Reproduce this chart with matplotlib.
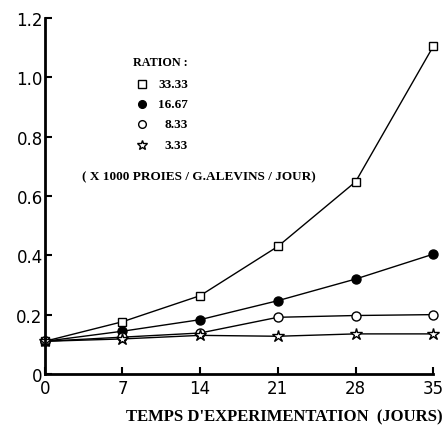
import matplotlib
matplotlib.use('Agg')
from matplotlib import pyplot as plt

days = [0, 7, 14, 21, 28, 35]
ration_labels = ['33.33', '16.67', '8.33', '3.33']
r33 = [0.11, 0.176, 0.264, 0.43, 0.648, 1.105]
r16 = [0.11, 0.144, 0.183, 0.247, 0.32, 0.404]
r8 = [0.11, 0.124, 0.138, 0.191, 0.197, 0.20]
r3 = [0.11, 0.118, 0.13, 0.127, 0.135, 0.135]

series = [
    (r33, dict(marker='s', mfc='white', ms=6)),
    (r16, dict(marker='o', mfc='black', ms=6.5)),
    (r8, dict(marker='o', mfc='white', ms=6.5)),
    (r3, dict(marker='*', mfc='white', ms=9)),
]

fig = plt.figure(figsize=(4.48, 4.27), dpi=100)
ax = fig.add_axes([0.100, 0.122, 0.867, 0.833])

for values, style in series:
    ax.plot(days, values, color='black', linewidth=1, mec='black', mew=1, clip_on=False, **style)

ax.set_xlim(0, 35)
ax.set_ylim(0, 1.2)
ax.set_xticks(days)
ax.set_yticks([0, 0.2, 0.4, 0.6, 0.8, 1.0, 1.2])
ax.set_yticklabels(['0', '0.2', '0.4', '0.6', '0.8', '1.0', '1.2'])

for side in ['top', 'right']:
    ax.spines[side].set_visible(False)
for side in ['left', 'bottom']:
    ax.spines[side].set_linewidth(2)
ax.tick_params(direction='in', length=5, width=1.5, labelsize=12)
ax.tick_params(axis='x', pad=4)
ax.tick_params(axis='y', pad=1.5)
for lab in ax.get_xticklabels() + ax.get_yticklabels():
    lab.set_family('DejaVu Sans')

serif = dict(family='Liberation Serif', fontweight='bold', color='black')
fig.text(0.989, 0.023, "TEMPS D'EXPERIMENTATION  (JOURS)", ha='right', va='center',
         fontsize=12, **serif)

# legend block drawn by hand
ax.text(0.227, 0.876, 'RATION :', transform=ax.transAxes, fontsize=8.7, va='center', **serif)
leg_y = [0.815, 0.758, 0.702, 0.643]
for (values, style), lab, yy in zip(series, ration_labels, leg_y):
    st = dict(style)
    st['ms'] = st['ms'] * 0.85
    ax.plot([0.25], [yy], transform=ax.transAxes, linestyle='none', color='black', mec='black', mew=1, **st)
    ax.text(0.369, yy, lab, transform=ax.transAxes, fontsize=9.5, va='center', ha='right', **serif)
ax.text(0.095, 0.556, '( X 1000 PROIES / G.ALEVINS / JOUR)', transform=ax.transAxes,
        fontsize=9.5, va='center', **serif)

fig.savefig('out.png', dpi=100)
